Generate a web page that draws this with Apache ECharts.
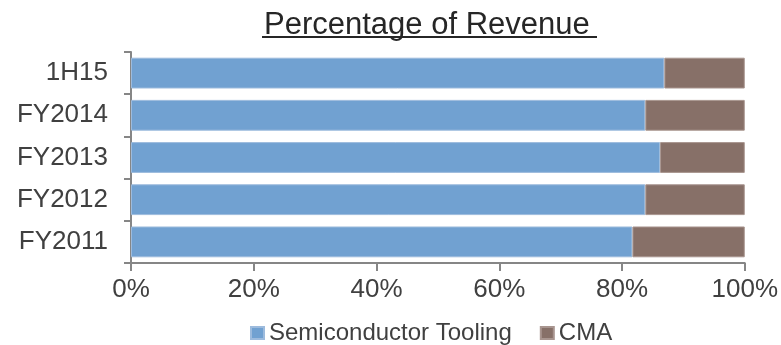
<!DOCTYPE html>
<html>
<head>
<meta charset="utf-8">
<script src="https://cdn.jsdelivr.net/npm/echarts@6/dist/echarts.min.js"></script>
<style>
  html, body { margin: 0; padding: 0; background: #fff; }
  #chart { width: 781px; height: 345px; }
</style>
</head>
<body>
<div id="chart"></div>
<script>
// Revenue mix by period (share of total, %)
const categories = ['FY2011', 'FY2012', 'FY2013', 'FY2014', '1H15'];
const semiconductorTooling = [81.7, 83.8, 86.2, 83.8, 86.9];
const cma = [18.3, 16.2, 13.8, 16.2, 13.1];
const xTicks = [0, 20, 40, 60, 80, 100];

const FONT = '"Liberation Sans", Arial, sans-serif';
const TEXT = '#404040';
const AXIS = '#868686';

const chart = echarts.init(document.getElementById('chart'), null, { renderer: 'canvas' });

chart.setOption({
  animation: false,
  backgroundColor: '#ffffff',
  title: {
    text: 'Percentage of Revenue',
    left: 259,
    top: 5,
    textStyle: { fontFamily: FONT, fontSize: 31, fontWeight: 'normal', color: '#262626' }
  },
  // underline beneath the title
  graphic: [{
    type: 'rect',
    shape: { x: 262, y: 36, width: 335, height: 2 },
    style: { fill: '#262626' }
  }],
  legend: {
    top: 316,
    left: 245,
    itemWidth: 13,
    itemHeight: 12,
    itemGap: 28,
    icon: 'rect',
    textStyle: { fontFamily: FONT, fontSize: 24, color: TEXT }
  },
  grid: { left: 131, right: 36, top: 52, bottom: 82, containLabel: false },
  xAxis: {
    type: 'value',
    min: 0,
    max: 100,
    interval: 20,
    axisLine: { show: true, lineStyle: { color: AXIS, width: 2 } },
    axisTick: { show: true, length: 8, lineStyle: { color: AXIS, width: 2 } },
    splitLine: { show: false },
    axisLabel: {
      fontFamily: FONT, fontSize: 26, color: TEXT, margin: 14,
      formatter: v => xTicks.includes(v) ? v + '%' : ''
    }
  },
  yAxis: {
    type: 'category',
    data: categories,
    axisLine: { show: true, lineStyle: { color: AXIS, width: 2 } },
    axisTick: { show: true, length: 7, lineStyle: { color: AXIS, width: 2 } },
    axisLabel: { fontFamily: FONT, fontSize: 26, color: TEXT, margin: 23 }
  },
  series: [
    {
      name: 'Semiconductor Tooling',
      type: 'bar',
      stack: 'total',
      barCategoryGap: '27%',
      data: semiconductorTooling,
      itemStyle: { color: '#71a1d1', borderColor: '#9dbbdd', borderWidth: 1 }
    },
    {
      name: 'CMA',
      type: 'bar',
      stack: 'total',
      barCategoryGap: '27%',
      data: cma,
      itemStyle: { color: '#877068', borderColor: '#a8958f', borderWidth: 1 }
    }
  ]
});
</script>
</body>
</html>
